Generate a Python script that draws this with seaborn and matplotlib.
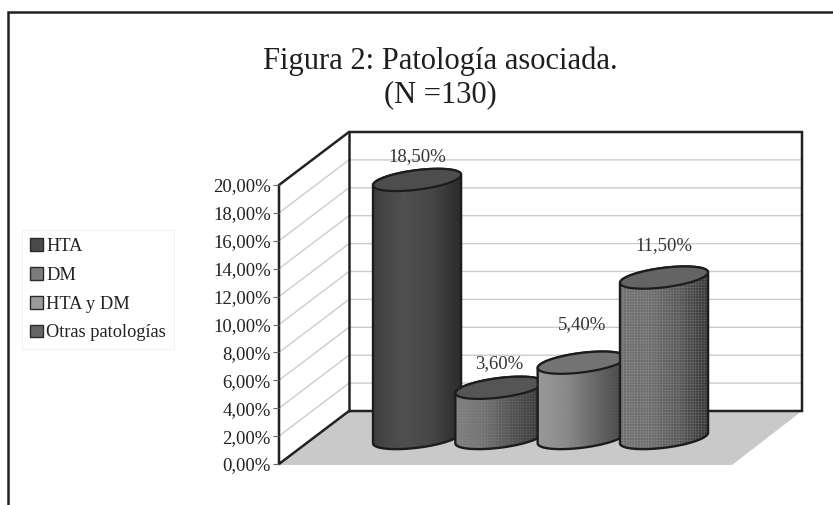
import numpy as np
import pandas as pd
import matplotlib
matplotlib.use("Agg")
import matplotlib.pyplot as plt
from matplotlib.path import Path
from matplotlib.patches import PathPatch, Polygon
from matplotlib.colors import LinearSegmentedColormap
import seaborn as sns

# ---- data ----
categories = ["HTA", "DM", "HTA y DM", "Otras patologías"]
values = [18.5, 3.6, 5.4, 11.5]
value_labels = ["18,50%", "3,60%", "5,40%", "11,50%"]
y_ticks = [0, 2, 4, 6, 8, 10, 12, 14, 16, 18, 20]
y_tick_labels = ["0,00%", "2,00%", "4,00%", "6,00%", "8,00%", "10,00%",
                 "12,00%", "14,00%", "16,00%", "18,00%", "20,00%"]
title_lines = ["Figura 2: Patología asociada.", "(N =130)"]

# ---- style ----
legend_colors = ["#4b4b4b", "#7c7c7c", "#9b9b9b", "#666666"]
body_ramps = [["#3f3f3f", "#505050", "#474747", "#2a2a2a"],
              ["#7e7e7e", "#707070", "#505050", "#363636"],
              ["#989898", "#888888", "#646464", "#434343"],
              ["#6e6e6e", "#6c6c6c", "#565656", "#2f2f2f"]]
cap_colors = ["#4d4d4d", "#555555", "#737373", "#646464"]
dot_alpha = [0.0, 0.14, 0.06, 0.28]
label_lift = [23, 24, 38, 32]
W, H = 833, 505
FONT = "Liberation Serif"

sns.set_theme(style="white")
plt.rcParams["font.family"] = [FONT, "DejaVu Sans"]
plt.rcParams["hatch.linewidth"] = 0.5

fig = plt.figure(figsize=(W / 100, H / 100), dpi=100, facecolor="white")


def rect(x0, ytop, x1, ybot):
    return [x0 / W, 1 - ybot / H, (x1 - x0) / W, (ybot - ytop) / H]


# chrome layer in pixel units
bg = fig.add_axes([0, 0, 1, 1], zorder=0)
bg.set_xlim(0, W)
bg.set_ylim(H, 0)
bg.axis("off")

FX, FY0, FY20 = 279, 464, 185      # front plane
DX, DY = 70, -53                   # depth offset
RX = 802

ax_tick = fig.add_axes(rect(FX, FY20, FX + 1, FY0), zorder=1)
ax_tick.set_ylim(0, 20)
ax_tick.set_xticks([])
ax_tick.set_yticks(y_ticks)
ax_tick.set_yticklabels(y_tick_labels, fontsize=13.5, color="#222222")
ax_tick.tick_params(axis="y", length=4, width=0.8, color="#666666", pad=2, left=True)
ax_tick.patch.set_alpha(0)
for s in ["top", "right", "bottom", "left"]:
    ax_tick.spines[s].set_visible(False)

# outer frame
bg.plot([8, 8, W], [H, 12, 12], color="#222222", lw=1.8, solid_joinstyle="miter")

# floor
bg.add_patch(Polygon([(FX, FY0 + 1), (FX + DX, FY0 + DY), (RX, FY0 + DY), (RX - DX, FY0 + 1)],
                     closed=True, facecolor="#c9c9c9", edgecolor="none"))

# gridlines
for t in y_ticks[1:-1]:
    y = FY0 + (FY20 - FY0) * t / 20
    bg.plot([FX, FX + DX, RX], [y, y + DY, y + DY], color="#cccccc", lw=1.0)

# walls
wall = "#222222"
bg.plot([FX, FX, FX + DX, RX, RX, FX + DX, FX], [FY0, FY20, FY20 + DY, FY20 + DY, FY0 + DY, FY0 + DY, FY0],
        color=wall, lw=1.8, solid_joinstyle="miter")
bg.plot([FX + DX, FX + DX], [FY20 + DY, FY0 + DY], color=wall, lw=1.8)

# seaborn bars: value scale on the mid-depth plane
ax = fig.add_axes(rect(373, 159, 712.6, 438), zorder=2)
df = pd.DataFrame({"Patología": categories, "Valor": values})
sns.barplot(data=df, x="Patología", y="Valor", hue="Patología", palette=legend_colors,
            order=categories, hue_order=categories, dodge=False, width=1.07, gap=0,
            saturation=1, ax=ax, legend=True)
ax.set_xlim(-0.535, 3.59)
ax.set_ylim(0, 20)
ax.axis("off")
ax.patch.set_alpha(0)

handles, labels = ax.get_legend_handles_labels()
ax.get_legend().remove()
for h in handles:
    h.set_edgecolor("#2a2a2a")
    h.set_linewidth(1.0)
leg = ax.legend(handles, labels, loc="upper left",
                bbox_to_anchor=(22 / W, 1 - 230 / H), bbox_transform=fig.transFigure,
                borderaxespad=0, frameon=True, fancybox=False, fontsize=13.2,
                handlelength=0.7, handleheight=0.7, handletextpad=0.2,
                labelspacing=0.65, borderpad=0.42, edgecolor="#eeeeee", facecolor="white",
                labelcolor="#222222")
leg.get_frame().set_linewidth(0.8)

# cylinder layer in pixel units
top = fig.add_axes([0, 0, 1, 1], zorder=3)
top.set_xlim(0, W)
top.set_ylim(H, 0)
top.axis("off")
top.patch.set_alpha(0)

fig.canvas.draw()
to_px = ax.transData
SLOPE, MINOR, N = 0.12, 9.8, 60
bars = [p for p in ax.patches if p.get_height() > 0]
bars = sorted(bars, key=lambda p: p.get_x())


def arc(cx, cy, a, t0, t1):
    t = np.linspace(t0, t1, N)
    return np.c_[cx + a * np.cos(t), cy - SLOPE * a * np.cos(t) - MINOR * np.sin(t)]


for i, p in enumerate(bars):
    (xl, yb), (xr, yt) = to_px.transform([(p.get_x(), 0), (p.get_x() + p.get_width(), p.get_height())])
    # axes pixels: display origin at the bottom
    yb, yt = H - yb, H - yt
    cx, a = (xl + xr) / 2, (xr - xl) / 2
    z = 10 + i * 4
    lower = arc(cx, yb, a, np.pi, 2 * np.pi)           # bottom front arc, left to right
    upper = arc(cx, yt, a, 0, 2 * np.pi)
    outline = np.vstack([lower, arc(cx, yt, a, 0, np.pi), lower[:1]])
    body = Path(outline)
    p.set_clip_path(body, top.transData)
    cmap = LinearSegmentedColormap.from_list("c", body_ramps[i])
    im = top.imshow(np.linspace(0, 1, 128)[None, :], extent=(xl, xr, H, 0), cmap=cmap,
                    aspect="auto", zorder=z, interpolation="bilinear")
    im.set_clip_path(PathPatch(body, transform=top.transData))
    if dot_alpha[i] > 0:
        dots = PathPatch(body, facecolor="none", edgecolor=(0.75, 0.75, 0.75, dot_alpha[i]),
                         lw=0, hatch="++++++", zorder=z + 1)
        top.add_patch(dots)
    top.add_patch(PathPatch(body, facecolor="none", edgecolor="#1c1c1c", lw=1.7, zorder=z + 2))
    top.add_patch(PathPatch(Path(upper), facecolor=cap_colors[i], edgecolor="#1c1c1c", lw=1.6, zorder=z + 3))
    top.text(cx, yt - label_lift[i], value_labels[i], ha="center", va="center",
             fontsize=13.5, color="#333333", zorder=40)

top.set_xlim(0, W)
top.set_ylim(H, 0)

bg.text(440, 61, title_lines[0], ha="center", va="center", fontsize=22, color="#1e1e1e")
bg.text(440, 95, title_lines[1], ha="center", va="center", fontsize=22, color="#1e1e1e")

fig.savefig("out.png", dpi=100, facecolor="white")
